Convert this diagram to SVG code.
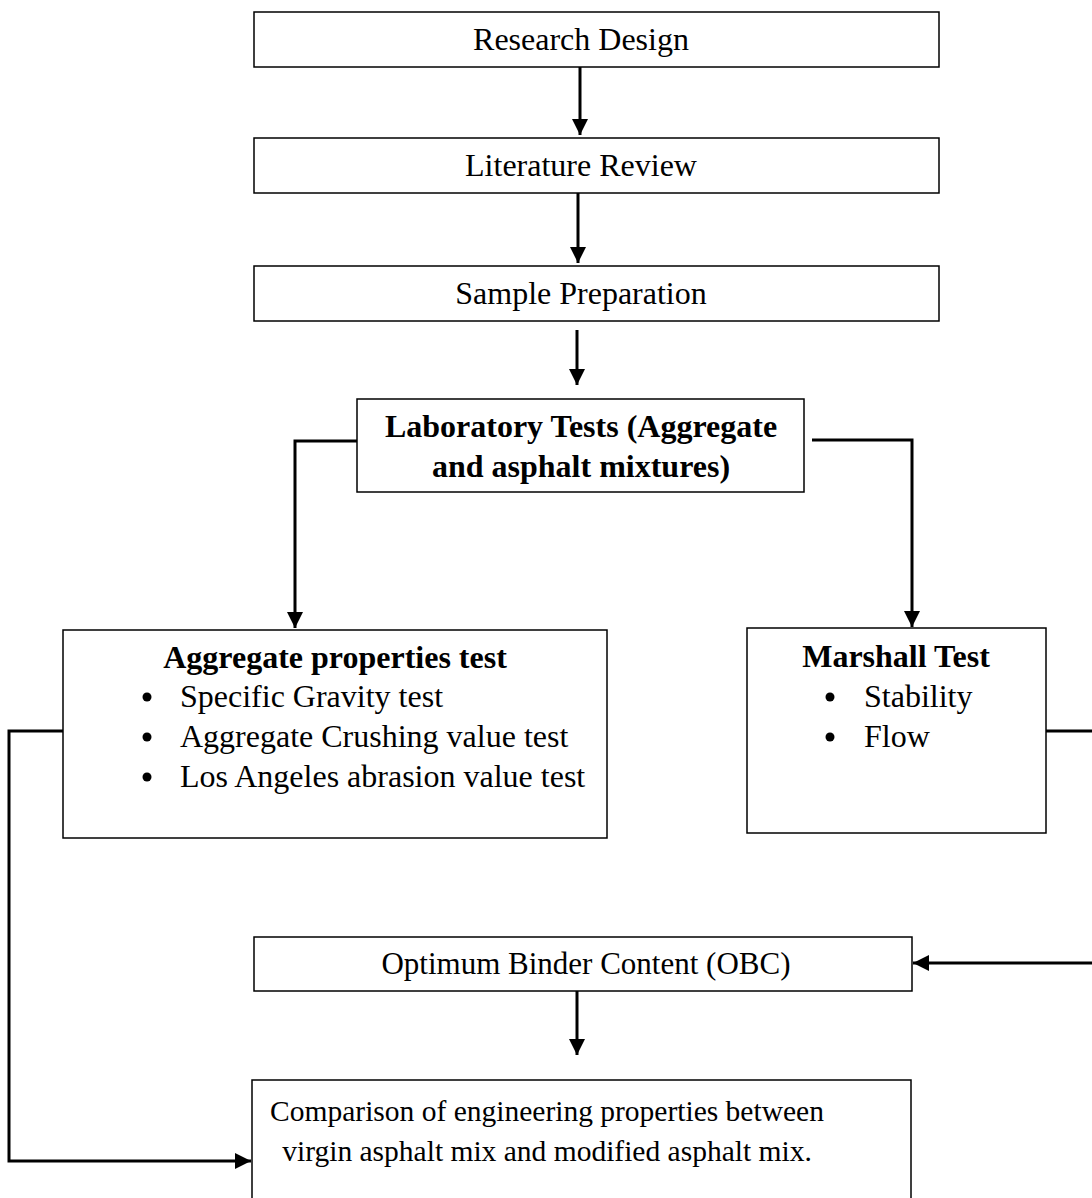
<svg xmlns="http://www.w3.org/2000/svg" width="1092" height="1198" viewBox="0 0 1092 1198">
<style>
.box{fill:#fff;stroke:#000;stroke-width:1.5}
.t{font-family:"Liberation Serif","Times New Roman",serif;font-size:32px;fill:#000}
.s{font-size:29.5px}
.m{font-size:31px}
.b{font-weight:bold}
.c{text-anchor:middle}
.ln{fill:none;stroke:#000;stroke-width:3}
</style>
<defs>
<marker id="ah2" markerWidth="16" markerHeight="16" refX="16" refY="8" orient="auto" markerUnits="userSpaceOnUse" viewBox="0 0 16 16">
<path d="M0,0 L16,8 L0,16 z" fill="#000"/>
</marker>
</defs>
<rect width="1092" height="1198" fill="#fff"/>
<g id="connectors">
<path class="ln" d="M580,67 V135" marker-end="url(#ah2)"/>
<path class="ln" d="M578,193 V263" marker-end="url(#ah2)"/>
<path class="ln" d="M577,330 V385" marker-end="url(#ah2)"/>
<path class="ln" d="M357,441 H295 V628" marker-end="url(#ah2)"/>
<path class="ln" d="M812,440 H912 V627" marker-end="url(#ah2)"/>
<path class="ln" d="M1046,731 H1095"/>
<path class="ln" d="M1095,963 H913" marker-end="url(#ah2)"/>
<path class="ln" d="M577,991 V1055" marker-end="url(#ah2)"/>
<path class="ln" d="M63,731 H9 V1161 H251" marker-end="url(#ah2)"/>
</g>
<g id="n1"><rect class="box" x="254" y="12" width="685" height="55"/><text class="t c" x="581" y="50">Research Design</text></g>
<g id="n2"><rect class="box" x="254" y="138" width="685" height="55"/><text class="t c" x="581" y="176">Literature Review</text></g>
<g id="n3"><rect class="box" x="254" y="266" width="685" height="55"/><text class="t c" x="581" y="304">Sample Preparation</text></g>
<g id="n4"><rect class="box" x="357" y="399" width="447" height="93"/>
<text class="t b c" x="581" y="437">Laboratory Tests (Aggregate</text>
<text class="t b c" x="581" y="477">and asphalt mixtures)</text></g>
<g id="n5"><rect class="box" x="63" y="630" width="544" height="208"/>
<text class="t b c" x="335" y="668">Aggregate properties test</text>
<circle cx="147" cy="697" r="4.5"/><text class="t" x="180" y="707">Specific Gravity test</text>
<circle cx="147" cy="737" r="4.5"/><text class="t" x="180" y="747">Aggregate Crushing value test</text>
<circle cx="147" cy="777" r="4.5"/><text class="t" x="180" y="787">Los Angeles abrasion value test</text></g>
<g id="n6"><rect class="box" x="747" y="628" width="299" height="205"/>
<text class="t b c" x="896" y="667">Marshall Test</text>
<circle cx="830" cy="697" r="4.5"/><text class="t" x="864" y="707">Stability</text>
<circle cx="830" cy="737" r="4.5"/><text class="t" x="864" y="747">Flow</text></g>
<g id="n7"><rect class="box" x="254" y="937" width="658" height="54"/><text class="t m c" x="586" y="974">Optimum Binder Content (OBC)</text></g>
<g id="n8"><rect class="box" x="252" y="1080" width="659" height="130"/>
<text class="t s c" x="547" y="1121">Comparison of engineering properties between</text>
<text class="t s c" x="547" y="1161">virgin asphalt mix and modified asphalt mix.</text></g>
</svg>
